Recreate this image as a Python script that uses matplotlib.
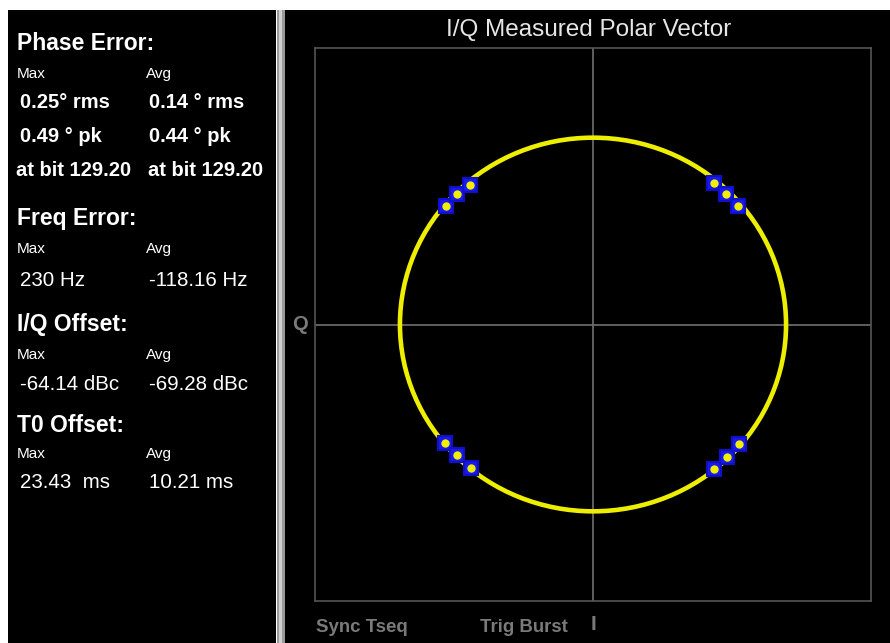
import matplotlib
matplotlib.use("Agg")
import matplotlib.pyplot as plt
from matplotlib.patches import Rectangle, Circle

plt.rcParams['font.family'] = ['Liberation Sans', 'DejaVu Sans']

# measured I/Q symbol clusters (I, Q), normalised to the trace radius
sym_i = [-0.762, -0.705, -0.637, 0.627, 0.689, 0.751,
         -0.767, -0.705, -0.632, 0.627, 0.694, 0.756]
sym_q = [0.636, 0.701, 0.749, 0.759, 0.701, 0.636,
         -0.636, -0.701, -0.770, -0.775, -0.711, -0.642]
trace_radius = 1.0

# left panel readouts
sections = ["Phase Error:", "Freq Error:", "I/Q Offset:", "T0 Offset:"]
max_values = [["0.25° rms", "0.49 ° pk", "at bit 129.20"], ["230 Hz"], ["-64.14 dBc"], ["23.43  ms"]]
avg_values = [["0.14 ° rms", "0.44 ° pk", "at bit 129.20"], ["-118.16 Hz"], ["-69.28 dBc"], ["10.21 ms"]]

W, H = 890, 643
fig = plt.figure(figsize=(W / 100, H / 100), dpi=100, facecolor="white")

def fx(px):
    return px / W

def fy(py):
    return 1 - py / H

# panels (behind everything)
panels = [(8, 268, "black"), (277, 8, "#9a9a9a"), (279, 3, "#d0d0d0"), (285, 605, "black")]
for x0, w, c in panels:
    fig.patches.append(Rectangle((fx(x0), 0), fx(w), fy(10), transform=fig.transFigure,
                                 facecolor=c, edgecolor="none", zorder=-10))

# left readout text
head_y = [43, 218, 324, 426]
row_y = {0: [103, 137, 171], 1: [280], 2: [384], 3: [483]}
for k, name in enumerate(sections):
    fig.text(fx(17), fy(head_y[k]), name, color="white", fontsize=16.5, fontweight="bold", va="center")
    sub_y = head_y[k] + (31 if k < 3 else 28)
    fig.text(fx(17), fy(sub_y), "Max", color="white", fontsize=11, va="center")
    fig.text(fx(146), fy(sub_y), "Avg", color="white", fontsize=11, va="center")
    bold = k == 0
    for j, yy in enumerate(row_y[k]):
        xl = 20 if not (bold and j == 2) else 16
        xr = 149 if not (bold and j == 2) else 148
        fs = 14.5 if bold else 14.8
        fig.text(fx(xl), fy(yy), max_values[k][j], color="white", fontsize=fs,
                 fontweight="bold" if bold else "normal", va="center")
        fig.text(fx(xr), fy(yy), avg_values[k][j], color="white", fontsize=fs,
                 fontweight="bold" if bold else "normal", va="center")

# polar vector plot
ax = fig.add_axes([fx(315), fy(601), fx(556), (601 - 48) / H])
ax.set_facecolor("black")
for s in ax.spines.values():
    s.set_color("#555555")
    s.set_linewidth(1.2)
ax.set_xlim(-1.44, 1.44)
ax.set_ylim(-1.48, 1.48)
ax.set_xticks([])
ax.set_yticks([])
ax.axhline(0, color="#707070", lw=1.2, zorder=1)
ax.axvline(0, color="#707070", lw=1.2, zorder=1)
ax.add_patch(Circle((0, 0), trace_radius, fill=False, edgecolor="#eeee00", lw=3.3, zorder=2))
ax.plot(sym_i, sym_q, ls="none", marker="s", ms=9.5, mfc="#1818f0", mec="#1010c8", mew=1.5, zorder=3)
ax.plot(sym_i, sym_q, ls="none", marker="o", ms=6, mfc="#f0f000", mec="none", zorder=4)

fig.text(fx(589), fy(30), "I/Q Measured Polar Vector", color="#e6e6e6", fontsize=17.5,
         ha="center", va="center")
fig.text(fx(300), fy(325), "Q", color="#7a7a7a", fontsize=14.5, fontweight="bold",
         ha="center", va="center")
fig.text(fx(316), fy(627), "Sync Tseq", color="#7a7a7a", fontsize=13.4, fontweight="bold", va="center")
fig.text(fx(480), fy(627), "Trig Burst", color="#7a7a7a", fontsize=13.4, fontweight="bold", va="center")
fig.text(fx(594), fy(624), "I", color="#7a7a7a", fontsize=15, fontweight="bold",
         ha="center", va="center")

fig.savefig("out.png", dpi=100, facecolor="white")
